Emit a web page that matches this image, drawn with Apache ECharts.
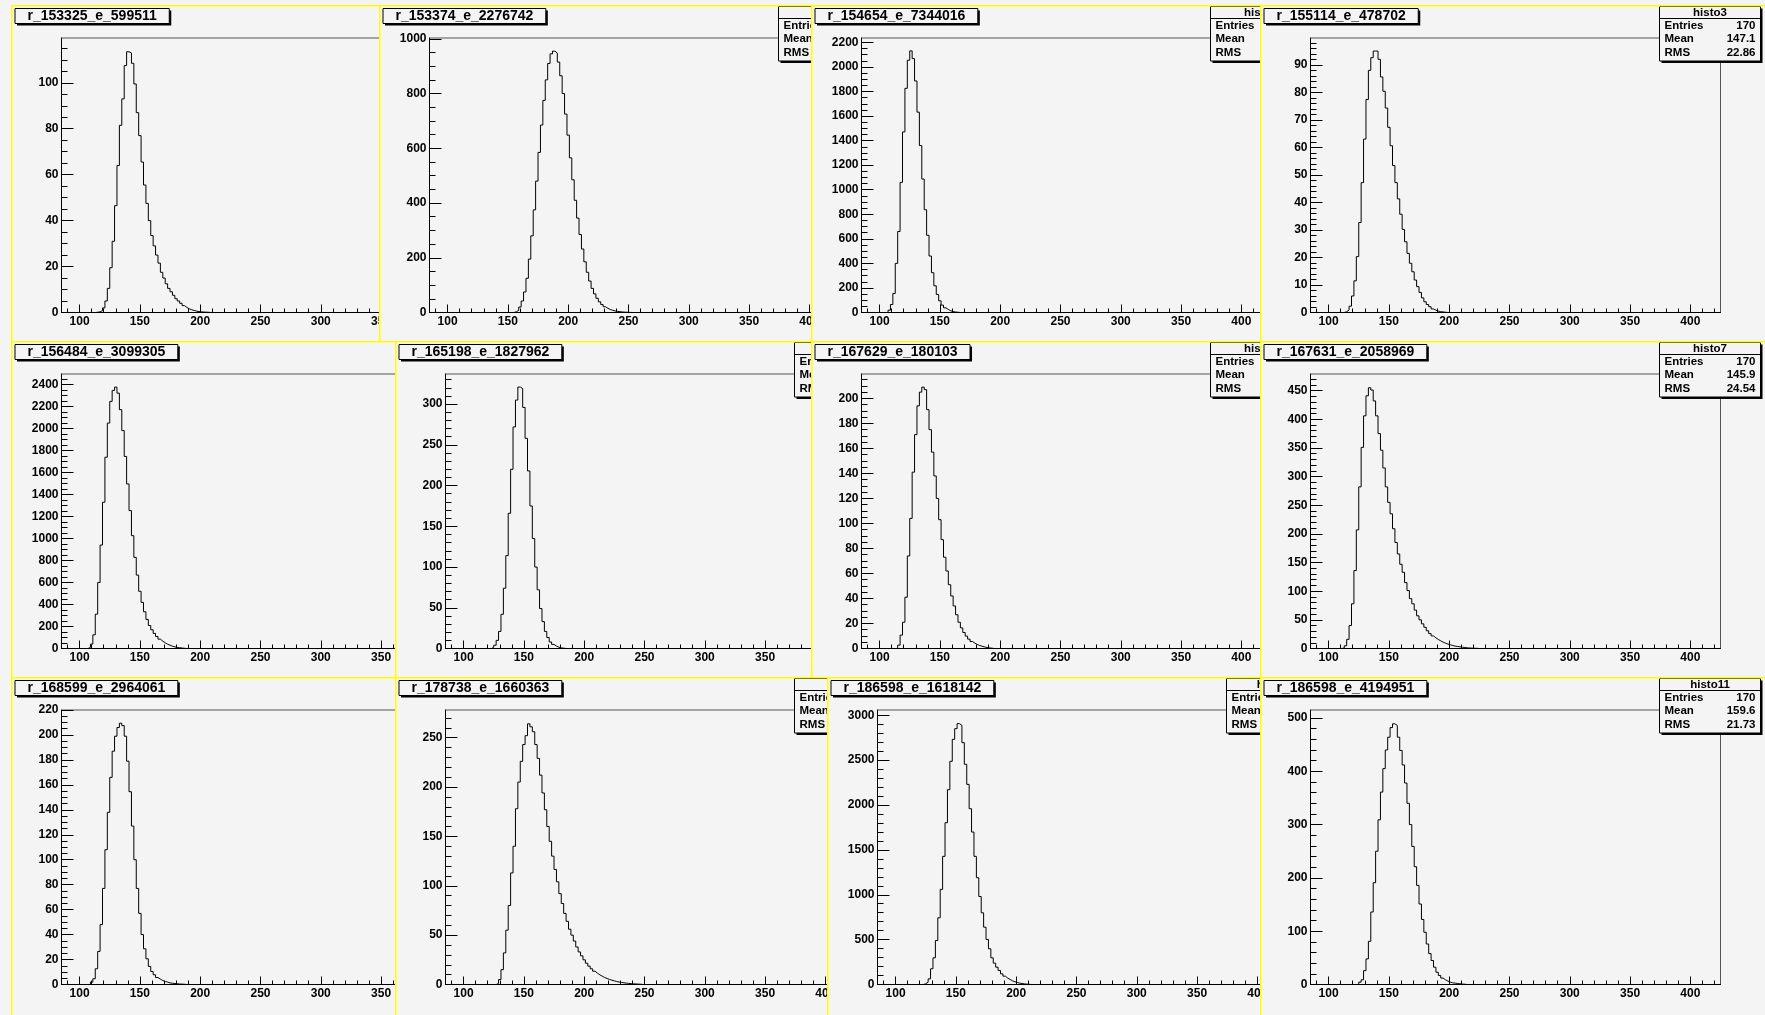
<!DOCTYPE html>
<html><head><meta charset="utf-8">
<script src="https://cdn.jsdelivr.net/npm/echarts@6/dist/echarts.min.js"></script>
<style>
html,body{margin:0;padding:0;background:#f4f4f4;width:1765px;height:1015px;overflow:hidden;position:relative;}
.clip{position:absolute;overflow:hidden;}
.pad{position:absolute;left:0;top:0;width:512px;height:343px;}
</style></head><body>
<script>
// ---------------- DATA ----------------
const titles = ["r_153325_e_599511","r_153374_e_2276742","r_154654_e_7344016","r_155114_e_478702",
  "r_156484_e_3099305","r_165198_e_1827962","r_167629_e_180103","r_167631_e_2058969",
  "r_168599_e_2964061","r_178738_e_1660363","r_186598_e_1618142","r_186598_e_4194951"];
const statNames = ["histo0","histo1","histo2","histo3","histo4","histo5","histo6","histo7","histo8","histo9","histo10","histo11"];
const statEntries = [170,170,170,170,170,170,170,170,170,170,170,170];
const statMean = [null,null,null,147.1,null,null,null,145.9,null,null,null,159.6];
const statRMS  = [null,null,null,22.86,null,null,null,24.54,null,null,null,21.73];

// histogram binning: 170 bins of width 2 from 85 to 425
const X_MIN = 85, X_MAX = 425, BIN_W = 2;
const xTickLabels = [100,150,200,250,300,350,400];
const xMinorStep = 10;

// first bin left edge + bin contents
const h1First = 113;
const h1 = [0.1,0.3,0.8,2,5,10.5,19.5,31,46.5,64,81.5,93,107.5,113.5,113,108.5,99.5,87,77,65.5,55.5,47.5,40,33.5,29,25,21.5,17.5,15,12.5,10.5,9,7.5,6,5,4,3,2.2,1.6,1.2,0.9,0.6,0.4,0.3,0.2,0.15,0.1];
const h2First = 155;
const h2 = [2.5,8,20,42,75,125,195,280,375,480,585,685,775,850,910,945,955,948,915,865,800,725,648,565,485,410,345,285,232,185,147,115,88,68,52,39,29,21,15,11,8,5.5,4,2.8,2,1.3,0.8,0.5];
const h3First = 107;
const h3 = [19,65,155,400,660,1060,1471,1826,2055,2131,2068,1886,1632,1360,1087,837,629,460,324,218,147,95,60,38,25,14,8,4,2];
const h4First = 113;
const h4 = [0.3,0.9,2.3,6,11.5,20.3,32.7,47.2,63,77.4,88,92.6,95,95,92,85.6,80.4,74.3,67.3,60.6,53.4,47.2,41.3,35.7,30.2,25.7,21.5,17.9,14.8,11.8,9.4,7.3,5.3,3.9,2.9,2.1,1.3,0.85,0.5,0.3,0.2,0.1];
const h5First = 107;
const h5 = [10,40,124,312,600,940,1329,1738,2048,2245,2345,2375,2320,2170,1980,1745,1495,1253,1025,828,667,520,419,334,264,209,170,137,109,85,67,52,39,30,21,15,10,7,4,2];
const h6First = 123;
const h6 = [1.5,4,10,21,42,74,114,166,220,272,305,321,319,296,258,218,175,135,100,72,49,33,21,13.5,8,5,3,1.6,0.8,0.4];
const h7First = 115;
const h7 = [2.7,10.7,21,41,74,104,141,171,194,205,209,207,191,175,157,138,120,103,87,73,62,51,42,34,27,21,16.5,12.8,9.9,7.5,5.6,4.3,3.2,2.4,1.8,1.3,0.8,0.5,0.3];
const h8First = 111;
const h8 = [1,4.7,16,40,78,136,207,282,351,406,441,455,451,432,406,375,346,315,282,255,235,209,185,165,147,133,115,101,87,78,67,57,50,43,37,31,26,22,18.6,15.7,13.4,11,9.3,7.6,6.4,5.2,4.1,3.5,2.9,2.3,1.7,1.2,0.9,0.6,0.4,0.3];
const h9First = 109;
const h9 = [1.9,4.6,12.6,26.5,48,77,108,138,166,187,199,206,209.4,207.5,199,179,154.5,127,100,77,57,40,28.6,20.6,14.5,10.4,7.8,5.6,4.3,3.2,2.4,1.9,1.3,1.0,0.8,0.6,0.4,0.3,0.2];
const h10First = 127;
const h10 = [1,5,15,32,55,80,113,140,178,205,226,243,252,264,261,256,243,229,212,194,177,160,145,130,116.5,104,92,82,72,64,56,50,44,38,33,29,25,21.6,18.6,15.9,13.5,11.5,9.8,8.4,7.1,6.1,5.1,4.4,3.7,3.0,2.5,2.1,1.7,1.4,1.1,0.9,0.7,0.5,0.4,0.3];
const h11First = 123;
const h11 = [8,26,63,175,297,490,743,1060,1428,1803,2171,2487,2732,2851,2907,2888,2695,2454,2230,1959,1699,1428,1190,981,799,639,502,398,297,238,193,156,119,93,71,56,41,30,22,15,11,7,4,2];
const h12First = 125;
const h12 = [4.4,8.8,26,48,81,136,191,250,309,361,405,440,464,482,489,486,464,439,412,378,340,300,259,221,186,151,122,98,76,58,45,32.5,23,17,12,8.8,6.3,4.4,3.1,2.5,1.9,1.3,0.8,0.5];

const histFirst = [h1First,h2First,h3First,h4First,h5First,h6First,h7First,h8First,h9First,h10First,h11First,h12First];
const histVals  = [h1,h2,h3,h4,h5,h6,h7,h8,h9,h10,h11,h12];

// y axis ranges and tick steps
const yMax       = [119.5,1003,2236,99.75,2494,337,219.5,479,220,278,3059,515];
const yMajorStep = [20,200,200,10,200,50,20,50,20,50,500,100];
const yMinorStep = [5,50,50,2,50,10,5,10,5,10,100,20];

// ---------------- LAYOUT ----------------
const CANVAS_W = 1765, CANVAS_H = 1015;
const PAD_W = 512, PAD_H = 343;
const padRowsX = [[11,379,811,1260],[11,395,811,1260],[11,395,827,1260]];
const padRowsY = [5,341,677];
const PAD_BG = '#f4f4f4';
const FONT = '"Liberation Sans", Arial, Helvetica, sans-serif';

const mctx = document.createElement('canvas').getContext('2d');
function textW(t, font){ mctx.font = font; return mctx.measureText(t).width; }

function buildCounts(first, vals){
  const n = Math.round((X_MAX - X_MIN)/BIN_W);
  const arr = new Array(n).fill(0);
  const i0 = Math.round((first - X_MIN)/BIN_W);
  vals.forEach((v,k)=>{ arr[i0+k] = v; });
  return arr;
}
function ticks(maxV, step, skipStep){
  const out = [];
  for (let k = 0; k*step <= maxV + 1e-9; k++){
    const v = +(k*step).toFixed(6);
    if (skipStep && Math.abs(v/skipStep - Math.round(v/skipStep)) < 1e-6) continue;
    out.push(v);
  }
  return out;
}
function xMinorTicks(){
  const out = [];
  const start = Math.ceil(X_MIN / xMinorStep) * xMinorStep;
  for (let v = start; v <= X_MAX; v += xMinorStep){
    if (xTickLabels.indexOf(v) < 0) out.push(v);
  }
  return out;
}
const plain = v => String(v);

function makePad(idx, px, py, vw, vh){
  const clip = document.createElement('div');
  clip.className = 'clip';
  clip.style.left = px + 'px'; clip.style.top = py + 'px';
  clip.style.width = vw + 'px'; clip.style.height = vh + 'px';
  const pad = document.createElement('div');
  pad.className = 'pad';
  clip.appendChild(pad);
  document.body.appendChild(clip);

  const counts = buildCounts(histFirst[idx], histVals[idx]);
  const data = counts.map((c,i)=>[X_MIN + i*BIN_W, c]);
  data.push([X_MAX, counts[counts.length-1]]);

  // stats (given where visible, otherwise computed from the bin contents)
  let sw=0, sx=0, sxx=0;
  counts.forEach((c,i)=>{ const xc = X_MIN + (i+0.5)*BIN_W; sw+=c; sx+=c*xc; sxx+=c*xc*xc; });
  const mean = statMean[idx] != null ? statMean[idx] : +(sx/sw).toPrecision(4);
  const rms  = statRMS[idx]  != null ? statRMS[idx]  : +Math.sqrt(sxx/sw - (sx/sw)*(sx/sw)).toPrecision(4);

  const titleFont = 'bold 14px ' + FONT;
  const tW = textW(titles[idx], titleFont) + 25;
  const tX = 4, tY = 3.5, tH = 15;

  const sX = 399.5, sY = 1.5, sWd = 101, sHt = 54.5, sHead = 12;
  const statFont = 'bold 11.5px ' + FONT;

  const graphics = [
    {type:'rect', z:100, shape:{x:tX+2, y:tY+2, width:tW, height:tH}, style:{fill:'#000'}, silent:true},
    {type:'rect', z:101, shape:{x:tX, y:tY, width:tW, height:tH}, style:{fill:PAD_BG, stroke:'#000', lineWidth:1}, silent:true},
    {type:'text', z:102, x:tX + tW/2, y:tY + tH/2 + 0.5, style:{text:titles[idx], font:titleFont, fill:'#000', align:'center', verticalAlign:'middle'}, silent:true},
    {type:'rect', z:100, shape:{x:sX+2, y:sY+2, width:sWd, height:sHt}, style:{fill:'#000'}, silent:true},
    {type:'rect', z:101, shape:{x:sX, y:sY, width:sWd, height:sHt}, style:{fill:PAD_BG, stroke:'#000', lineWidth:1}, silent:true},
    {type:'line', z:102, shape:{x1:sX, y1:sY+sHead, x2:sX+sWd, y2:sY+sHead}, style:{stroke:'#000', lineWidth:1}, silent:true},
    {type:'text', z:102, x:sX + sWd/2, y:sY + sHead/2 + 0.5, style:{text:statNames[idx], font:statFont, fill:'#000', align:'center', verticalAlign:'middle'}, silent:true},
  ];
  const rows = [['Entries', String(statEntries[idx])], ['Mean', String(mean)], ['RMS', String(rms)]];
  rows.forEach((r,k)=>{
    const yc = sY + sHead + 7 + k*13.7;
    graphics.push({type:'text', z:102, x:sX+5, y:yc, style:{text:r[0], font:statFont, fill:'#000', align:'left', verticalAlign:'middle'}, silent:true});
    graphics.push({type:'text', z:102, x:sX+sWd-5, y:yc, style:{text:r[1], font:statFont, fill:'#000', align:'right', verticalAlign:'middle'}, silent:true});
  });
  graphics.push({type:'rect', z:200, shape:{x:0.75, y:0.75, width:PAD_W-1.5, height:PAD_H-1.5}, style:{fill:'none', stroke:'#ffff00', lineWidth:1.5}, silent:true});

  const yMaj = ticks(yMax[idx], yMajorStep[idx], 0);
  const yMin = ticks(yMax[idx], yMinorStep[idx], yMajorStep[idx]);
  const xMin = xMinorTicks();
  const lbl = {color:'#000', fontFamily:FONT, fontWeight:'bold', fontSize:12, formatter:plain};

  const chart = echarts.init(pad, null, {renderer:'canvas', width:PAD_W, height:PAD_H});
  chart.setOption({
    animation:false,
    backgroundColor: PAD_BG,
    grid:{left:50.5, top:33, width:410, height:274.5, show:true, borderColor:'#555', borderWidth:1, backgroundColor:'transparent'},
    xAxis:[
      {type:'value', min:X_MIN, max:X_MAX, position:'bottom',
       axisLine:{show:true, onZero:false, lineStyle:{color:'#000', width:1}},
       axisTick:{show:true, inside:true, length:8, customValues:xTickLabels, lineStyle:{color:'#000', width:1}},
       axisLabel:Object.assign({show:true, customValues:xTickLabels, margin:3}, lbl),
       splitLine:{show:false}},
      {type:'value', min:X_MIN, max:X_MAX, position:'bottom',
       axisLine:{show:false, onZero:false},
       axisTick:{show:true, inside:true, length:4, customValues:xMin, lineStyle:{color:'#000', width:1}},
       axisLabel:{show:false}, splitLine:{show:false}}
    ],
    yAxis:[
      {type:'value', min:0, max:yMax[idx], position:'left',
       axisLine:{show:true, onZero:false, lineStyle:{color:'#000', width:1}},
       axisTick:{show:true, inside:true, length:12, customValues:yMaj, lineStyle:{color:'#000', width:1}},
       axisLabel:Object.assign({show:true, customValues:yMaj, margin:3}, lbl),
       splitLine:{show:false}},
      {type:'value', min:0, max:yMax[idx], position:'left',
       axisLine:{show:false, onZero:false},
       axisTick:{show:true, inside:true, length:6, customValues:yMin, lineStyle:{color:'#000', width:1}},
       axisLabel:{show:false}, splitLine:{show:false}}
    ],
    series:[{type:'line', name:titles[idx], xAxisIndex:0, yAxisIndex:0, data:data, step:'end', symbol:'none',
             lineStyle:{color:'#000', width:1}, silent:true, clip:true}],
    graphic:{elements:graphics}
  });
}

let idx = 0;
for (let r = 0; r < 3; r++){
  const xs = padRowsX[r];
  const py = padRowsY[r];
  const vh = (r < 2 ? padRowsY[r+1] : CANVAS_H) - py;
  for (let c = 0; c < 4; c++){
    const px = xs[c];
    const vw = (c < 3 ? xs[c+1] : CANVAS_W) - px;
    makePad(idx, px, py, vw, vh);
    idx++;
  }
}
</script>
</body></html>
